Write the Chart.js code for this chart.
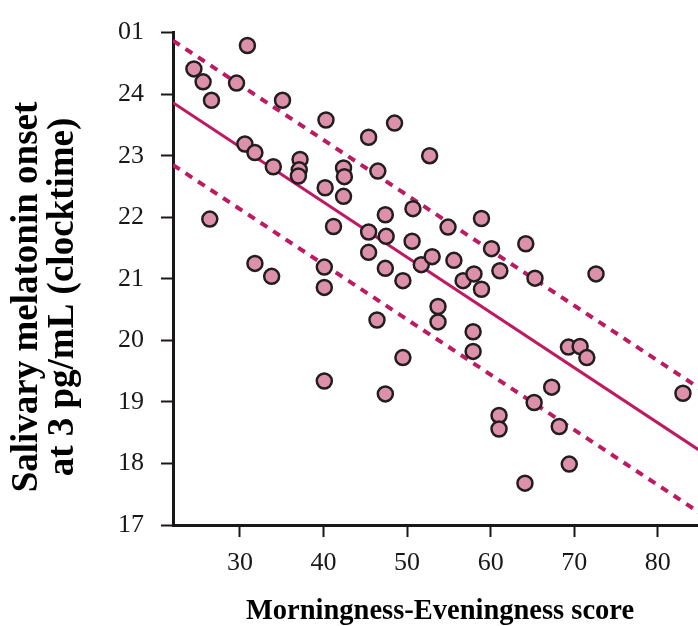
<!DOCTYPE html>
<html>
<head>
<meta charset="utf-8">
<script src="https://cdn.jsdelivr.net/npm/chart.js@4/dist/chart.umd.min.js"></script>
<style>
  html, body { margin: 0; padding: 0; background: #ffffff; }
  #wrap { position: relative; width: 698px; height: 626px; }
</style>
</head>
<body>
<div id="wrap"><canvas id="chart" width="698" height="626"></canvas></div>
<script>
// Morningness-Eveningness questionnaire score per participant
const meScore = [24.5, 25.6, 26.6, 30.9, 29.6, 35.1, 26.4, 30.6, 31.8, 34.0,
                 37.2, 37.1, 37.0, 40.3, 40.2, 41.2, 40.1, 40.1, 40.1, 31.8,
                 33.8, 42.4, 42.5, 42.4, 45.4, 48.5, 46.5, 45.4, 45.4, 47.4,
                 47.5, 47.4, 46.4, 47.4, 49.5, 49.5, 50.7, 50.6, 51.7, 52.7,
                 54.9, 53.0, 53.7, 53.7, 55.6, 56.7, 58.0, 58.9, 58.9, 57.9,
                 57.9, 60.1, 61.1, 61.0, 61.0, 64.2, 65.3, 64.1, 65.2, 67.3,
                 68.2, 69.3, 70.7, 71.5, 69.4, 72.6, 83.0];

// Salivary melatonin onset (clock hours; 25 = 01:00 next day)
const onsetHour = [24.41, 24.20, 23.90, 24.79, 24.18, 23.90, 21.97, 23.19, 23.05, 22.82,
                   22.94, 22.77, 22.67, 23.58, 22.48, 21.85, 21.19, 20.86, 19.34, 21.25,
                   21.04, 22.80, 22.66, 22.34, 23.30, 23.53, 22.75, 21.76, 21.43, 22.04,
                   21.69, 21.17, 20.33, 19.13, 20.97, 19.72, 22.14, 21.61, 21.23, 23.00,
                   21.84, 21.36, 20.55, 20.30, 21.30, 20.97, 21.08, 21.98, 20.83, 20.14,
                   19.82, 21.49, 21.13, 18.78, 18.56, 21.57, 21.01, 17.68, 18.99, 19.24,
                   18.60, 19.89, 19.90, 19.72, 17.99, 21.08, 19.14];

// Regression line and its prediction band, given at the ends of the score range
const fitScore = [22, 85];
const fitOnset = [23.86, 18.21];
const upperBand = [24.87, 19.22];
const lowerBand = [22.85, 17.20];

// Axis ticks
const xTickValues = [30, 40, 50, 60, 70, 80];
const yTickValues = [17, 18, 19, 20, 21, 22, 23, 24, 25];
const yTickLabels = ['17', '18', '19', '20', '21', '22', '23', '24', '01'];

const xTitle = 'Morningness-Eveningness score';
const yTitleLines = ['Salivary melatonin onset', 'at 3 pg/mL (clocktime)'];

const INK = '#1a1718';
const LINE_COLOR = '#be1a62';
const SERIF = '"Liberation Serif", "Times New Roman", serif';

const toPoints = (xs, ys) => xs.map((x, i) => ({ x: x, y: ys[i] }));

// Axis titles drawn on the canvas next to the plot area
const axisTitles = {
  id: 'axisTitles',
  afterDraw(chart) {
    const { ctx } = chart;
    ctx.save();
    ctx.fillStyle = '#000000';
    ctx.textAlign = 'center';

    ctx.font = 'bold 28.5px ' + SERIF;
    ctx.textBaseline = 'alphabetic';
    ctx.fillText(xTitle, 440, 619);

    ctx.font = 'bold 37px ' + SERIF;
    ctx.textBaseline = 'middle';
    const midY = 297;
    const xs = [27, 63];
    yTitleLines.forEach((line, i) => {
      ctx.save();
      ctx.translate(xs[i], midY);
      ctx.rotate(-Math.PI / 2);
      ctx.fillText(line, 0, 0);
      ctx.restore();
    });
    ctx.restore();
  }
};

new Chart(document.getElementById('chart'), {
  data: {
    datasets: [
      {
        type: 'scatter',
        data: toPoints(meScore, onsetHour),
        pointRadius: 7.5,
        pointHoverRadius: 7.5,
        pointBackgroundColor: '#dc90aa',
        pointBorderColor: '#221e1f',
        pointBorderWidth: 2.5,
        order: 0
      },
      {
        type: 'line',
        data: toPoints(fitScore, fitOnset),
        borderColor: LINE_COLOR,
        borderWidth: 3,
        pointRadius: 0,
        fill: false,
        order: 1
      },
      {
        type: 'line',
        data: toPoints(fitScore, upperBand),
        borderColor: LINE_COLOR,
        borderWidth: 4,
        borderDash: [8, 7],
        pointRadius: 0,
        fill: false,
        order: 1
      },
      {
        type: 'line',
        data: toPoints(fitScore, lowerBand),
        borderColor: LINE_COLOR,
        borderWidth: 4,
        borderDash: [8, 7],
        pointRadius: 0,
        fill: false,
        order: 1
      }
    ]
  },
  options: {
    responsive: false,
    animation: false,
    devicePixelRatio: 1,
    layout: { autoPadding: false, padding: { top: 25, left: 0, right: 0, bottom: 0 } },
    plugins: {
      legend: { display: false },
      tooltip: { enabled: false }
    },
    scales: {
      x: {
        type: 'linear',
        min: 22,
        max: 84.8,
        afterBuildTicks: (scale) => { scale.ticks = xTickValues.map(v => ({ value: v })); },
        afterFit: (scale) => { scale.height = 101; },
        ticks: {
          color: INK,
          font: { family: SERIF, size: 26 },
          padding: 11,
          maxRotation: 0
        },
        grid: {
          drawOnChartArea: false,
          drawTicks: true,
          tickLength: 12,
          tickWidth: 2,
          tickColor: INK,
          color: INK
        },
        border: { display: true, width: 3, color: INK }
      },
      y: {
        type: 'linear',
        min: 17,
        max: 25,
        afterBuildTicks: (scale) => { scale.ticks = yTickValues.map(v => ({ value: v })); },
        afterFit: (scale) => { scale.width = 173; },
        ticks: {
          color: INK,
          font: { family: SERIF, size: 26 },
          padding: 17,
          callback: (value) => yTickLabels[yTickValues.indexOf(value)]
        },
        grid: {
          drawOnChartArea: false,
          drawTicks: true,
          tickLength: 12,
          tickWidth: 2,
          tickColor: INK,
          color: INK
        },
        border: { display: true, width: 3, color: INK }
      }
    }
  },
  plugins: [axisTitles]
});
</script>
</body>
</html>
